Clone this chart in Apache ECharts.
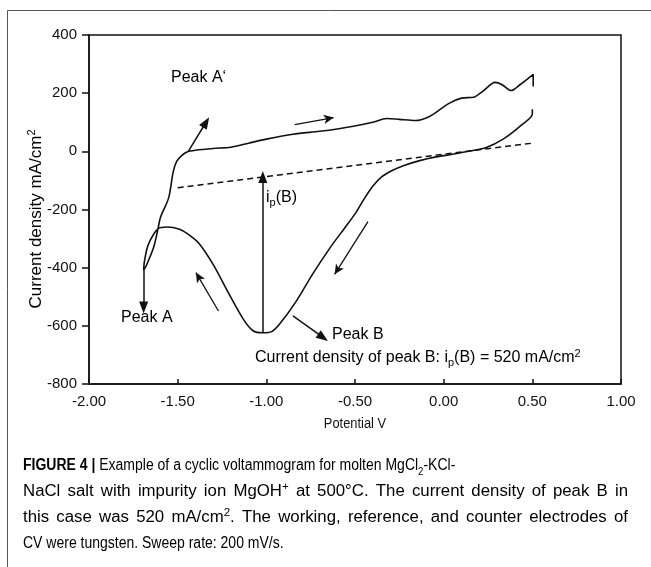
<!DOCTYPE html>
<html><head><meta charset="utf-8">
<script src="https://cdn.jsdelivr.net/npm/echarts@6/dist/echarts.min.js"></script>
<style>html,body{margin:0;padding:0;background:#fff}#c{width:651px;height:567px}</style>
</head><body><div id="c"></div><script>
// Cyclic voltammogram: cathodic sweep from +0.5 V, then anodic sweep back to +0.5 V
const potential = [0.50,0.50,0.43,0.335,0.24,0.15,0.05,-0.05,-0.135,-0.22,-0.29,-0.35,-0.40,-0.45,-0.50,-0.56,-0.64,-0.74,-0.83,-0.925,-0.97,-1.02,-1.075,-1.13,-1.21,-1.30,-1.375,-1.43,-1.49,-1.56,-1.61,-1.665,-1.687,-1.692,
  -1.674,-1.636,-1.612,-1.598,-1.551,-1.525,-1.505,-1.476,-1.448,-1.40,-1.30,-1.20,-1.10,-1.00,-0.85,-0.70,-0.60,-0.51,-0.40,-0.32,-0.25,-0.16,-0.08,0.03,0.10,0.17,0.22,0.29,0.33,0.38,0.43,0.505,0.505];
const current = [145,128,86,42,13,1,-10,-20,-32,-48,-66,-88,-120,-165,-215,-265,-331,-423,-514,-594,-620,-624,-617,-577,-491,-389,-320,-290,-268,-260,-266,-320,-377,-409,
  -389,-331,-270,-229,-160,-70,-34,-14,-2,4,10,14,28,42,59,69,77,86,100,113,110,106,120,165,183,186,206,237,229,209,229,265,223];
// dashed baseline for peak B
const baselineV = [-1.50, 0.50];
const baselineI = [-125, 28];
// annotation arrows [V0, I0, V1, I1]
const filledArrows = [
  [-1.44, 0, -1.34, 100],      // Peak A'
  [-1.692, -409, -1.692, -537], // Peak A
  [-1.02, -622, -1.02, -88],    // ip(B)
  [-0.85, -566, -0.68, -640]    // Peak B
];
const sweepArrows = [
  [-0.84, 92, -0.62, 116],
  [-1.27, -549, -1.397, -417],
  [-0.427, -242, -0.615, -423]
];
const xTickValues = [-2.00,-1.50,-1.00,-0.50,0.00,0.50,1.00];
const yTickValues = [-800,-600,-400,-200,0,200,400];

const chart = echarts.init(document.getElementById('c'));
const FONT = "'Liberation Sans', Arial, sans-serif";
const curveData = potential.map((v,i)=>[v,current[i]]);
const baseData = baselineV.map((v,i)=>[v,baselineI[i]]);
const mk = (arr, sym, size) => arr.map(a => [
  {coord:[a[0],a[1]], symbol:'none'},
  {coord:[a[2],a[3]], symbol:sym, symbolSize:size}
]);
const rich = {
  a:{fontSize:16, fontFamily:FONT, color:'#111', lineHeight:20},
  t:{fontSize:17, fontFamily:FONT, color:'#111', lineHeight:20},
  sub:{fontSize:11, fontFamily:FONT, color:'#111', lineHeight:12, verticalAlign:'bottom'},
  sup:{fontSize:11, fontFamily:FONT, color:'#111', lineHeight:12, verticalAlign:'top'}
};
// caption
const CAP = 16, CAPS = 11;
const capRich = {
  b:{fontSize:CAP, fontFamily:FONT, fontWeight:'bold', color:'#222', lineHeight:22},
  n:{fontSize:CAP, fontFamily:FONT, color:'#222', lineHeight:22},
  sub:{fontSize:CAPS, fontFamily:FONT, color:'#222', lineHeight:12, verticalAlign:'bottom'},
  sup:{fontSize:CAPS, fontFamily:FONT, color:'#222', lineHeight:12, verticalAlign:'top'}
};
const captionLines = [
  [['b','FIGURE 4 | '],['n','Example of a cyclic voltammogram for molten MgCl'],['sub','2'],['n','-KCl-']],
  [['n','NaCl salt with impurity ion MgOH'],['sup','+'],['n',' at 500°C. The current density of peak B in']],
  [['n','this case was 520 mA/cm'],['sup','2'],['n','. The working, reference, and counter electrodes of']],
  [['n','CV were tungsten. Sweep rate: 200 mV/s.']]
];
const captionWidths = [430, 605, 605, 262];
const captionJustify = [false, true, true, false];
const captionY = [466, 492, 518, 544];
const ctx = document.createElement('canvas').getContext('2d');
function segWidth(seg){
  const st = capRich[seg[0]];
  ctx.font = (st.fontWeight||'normal') + ' ' + st.fontSize + "px 'Liberation Sans', Arial, sans-serif";
  return ctx.measureText(seg[1]).width;
}
function splitWords(segs){
  const words=[[]];
  segs.forEach(([st,t])=>{
    t.split(' ').forEach((p,k)=>{
      if(k>0) words.push([]);
      if(p) words[words.length-1].push([st,p]);
    });
  });
  return words.filter(w=>w.length);
}
const SPACE = segWidth(['n',' ']);
const lineWords = captionLines.map(splitWords);
const lineWordW = lineWords.map(ws=>ws.map(w=>w.reduce((s,g)=>s+segWidth(g),0)));
const natural = lineWordW.map(a=>a.reduce((s,v)=>s+v,0)+(a.length-1)*SPACE);
const G = (captionWidths[0]/natural[0] + captionWidths[3]/natural[3])/2;
const captionEls = [];
lineWords.forEach((ws,i)=>{
  const wsW = lineWordW[i];
  const sumW = wsW.reduce((s,v)=>s+v,0);
  let g = G, gap = SPACE*G;
  if (captionJustify[i]) { g = G*1.2; gap = (captionWidths[i]-g*sumW)/(ws.length-1); }
  let cx = 23;
  ws.forEach((w,k)=>{
    captionEls.push({type:'text', x:cx, y:captionY[i], scaleX:g, silent:true,
      style:{text:w.map(s=>'{'+s[0]+'|'+s[1]+'}').join(''), rich:capRich, align:'left', verticalAlign:'middle'}});
    cx += g*wsW[k] + gap;
  });
});
function txt(x,y,text,r){
  return {type:'text', x:x, y:y, silent:true, style:{text:text, rich:r, align:'left', verticalAlign:'middle'}};
}
chart.setOption({
  animation:false,
  grid:{left:89, right:30, top:35, bottom:183, show:true, borderColor:'#111', borderWidth:1.5, backgroundColor:'transparent'},
  xAxis:{type:'value', min:-2, max:1, interval:0.5,
    axisLine:{onZero:false, lineStyle:{color:'#111', width:1.5}},
    axisTick:{inside:true, length:5, lineStyle:{color:'#111', width:1.5}},
    axisLabel:{fontSize:15, fontFamily:FONT, color:'#111', margin:10,
      formatter:v=>{const t=xTickValues.find(x=>Math.abs(x-v)<1e-9);return (t===undefined?v:t).toFixed(2);}},
    splitLine:{show:false}},
  yAxis:{type:'value', min:-800, max:400, interval:200,
    axisLine:{onZero:false, lineStyle:{color:'#111', width:1.5}},
    axisTick:{inside:false, length:7, lineStyle:{color:'#111', width:1.5}},
    axisLabel:{fontSize:15, fontFamily:FONT, color:'#111', margin:12,
      formatter:v=>String(yTickValues.find(y=>y===v) ?? v)},
    splitLine:{show:false}},
  series:[
    {type:'line', data:curveData, smooth:0.3, showSymbol:false, symbol:'none',
      lineStyle:{color:'#111', width:1.6}, silent:true,
      markLine:{silent:true, animation:false, label:{show:false},
        lineStyle:{color:'#111', width:1.5, type:'solid'},
        data: mk(filledArrows,'triangle',[9,12])}},
    {type:'line', data:baseData, showSymbol:false, symbol:'none',
      lineStyle:{color:'#111', width:1.5, type:[6,4]}, silent:true,
      markLine:{silent:true, animation:false, label:{show:false},
        lineStyle:{color:'#111', width:1.3, type:'solid'},
        data: mk(sweepArrows,'arrow',[7,10])}}
  ],
  graphic:[
    {type:'line', silent:true, shape:{x1:7.5,y1:10.5,x2:651,y2:10.5}, style:{stroke:'#555', lineWidth:1}},
    {type:'line', silent:true, shape:{x1:7.5,y1:10.5,x2:7.5,y2:567}, style:{stroke:'#555', lineWidth:1}},
    {type:'text', x:36, y:219, rotation:Math.PI/2, silent:true,
      style:{text:'{t|Current density mA/cm}{sup|2}', rich:rich, align:'center', verticalAlign:'middle'}},
    {type:'text', x:355, y:424, scaleX:0.92, silent:true,
      style:{text:'Potential V', font:"14px 'Liberation Sans', Arial, sans-serif", fill:'#111', align:'center', verticalAlign:'middle'}},
    txt(171,78,'{a|Peak A‘}',rich),
    txt(266,198,'{a|i}{sub|p}{a|(B)}',rich),
    txt(121,318,'{a|Peak A}',rich),
    txt(332,335,'{a|Peak B}',rich),
    txt(255,358,'{a|Current density of peak B: i}{sub|p}{a|(B) = 520 mA/cm}{sup|2}',rich)
  ].concat(captionEls)
});
</script></body></html>
